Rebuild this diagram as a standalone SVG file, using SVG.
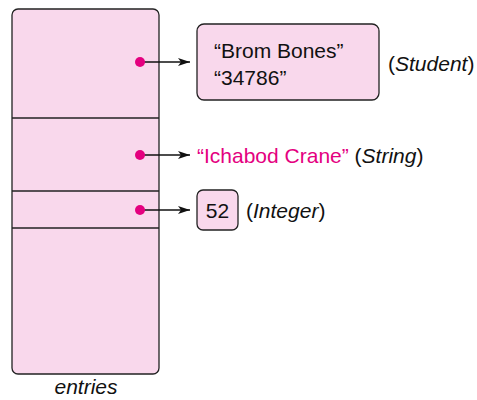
<svg xmlns="http://www.w3.org/2000/svg" width="477" height="400" viewBox="0 0 477 400">
<style>
.box{fill:#f9d8ec;stroke:#222;stroke-width:1.3}
.div{stroke:#222;stroke-width:1.3}
.t{font-family:"Liberation Sans",Arial,sans-serif;font-size:21px;fill:#111}
.m{fill:#e4007f}
.ln{stroke:#111;stroke-width:1.6;fill:none}
</style>
<defs>
<marker id="ah" viewBox="0 0 12 8" refX="12" refY="4" markerWidth="12" markerHeight="8" markerUnits="userSpaceOnUse" orient="auto">
<path d="M0,0 L12,4 L0,8 L3,4 Z" fill="#111"/>
</marker>
</defs>
<g id="entries">
<rect class="box" x="12" y="9" width="147" height="365" rx="6"/>
<line class="div" x1="12" y1="118" x2="159" y2="118"/>
<line class="div" x1="12" y1="191" x2="159" y2="191"/>
<line class="div" x1="12" y1="228" x2="159" y2="228"/>
<text class="t" x="86" y="394" text-anchor="middle" font-style="italic">entries</text>
</g>
<g id="connectors">
<line class="ln" x1="140" y1="62" x2="190" y2="62" marker-end="url(#ah)"/>
<line class="ln" x1="140" y1="155" x2="190" y2="155" marker-end="url(#ah)"/>
<line class="ln" x1="140" y1="210" x2="190" y2="210" marker-end="url(#ah)"/>
<circle class="m" cx="140" cy="62" r="5"/>
<circle class="m" cx="140" cy="155" r="5"/>
<circle class="m" cx="140" cy="210" r="5"/>
</g>
<g id="student">
<rect class="box" x="197" y="24" width="182" height="76" rx="7"/>
<text class="t" x="214" y="58">“Brom Bones”</text>
<text class="t" x="214" y="85">“34786”</text>
<text class="t" x="388" y="71">(<tspan font-style="italic">Student</tspan>)</text>
</g>
<g id="string">
<text class="t" x="197" y="163"><tspan class="m">“Ichabod Crane”</tspan> (<tspan font-style="italic">String</tspan>)</text>
</g>
<g id="integer">
<rect class="box" x="197" y="190" width="41" height="40" rx="6"/>
<text class="t" x="217.5" y="218" text-anchor="middle">52</text>
<text class="t" x="246" y="218">(<tspan font-style="italic">Integer</tspan>)</text>
</g>
</svg>
